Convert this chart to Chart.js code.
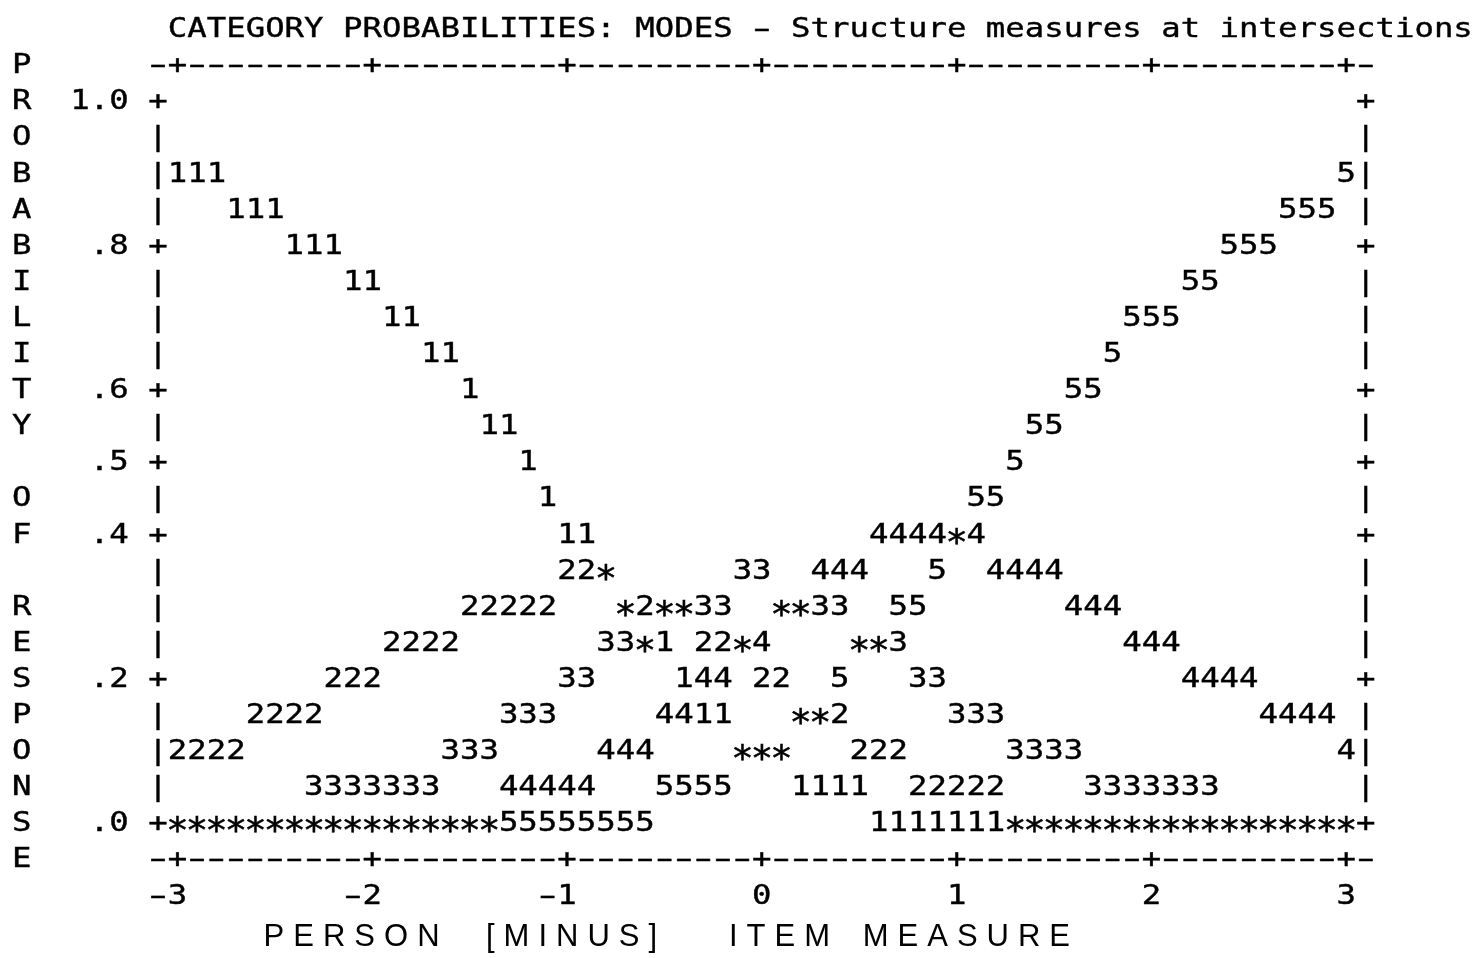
<!DOCTYPE html>
<html lang="en">
<head>
<meta charset="utf-8">
<title>Category probabilities</title>
<script src="https://cdn.jsdelivr.net/npm/chart.js@4.4.1/dist/chart.umd.min.js"></script>
<style>
    body { margin: 0; background: #ffffff; }
    #grafico { display: block; }
</style>
</head>
<body>
<canvas id="grafico" width="1477" height="958"></canvas>
<script>
// uma coluna do grafico a cada 0.1 logit
const medidas = [
    -3.0, -2.9, -2.8, -2.7, -2.6, -2.5, -2.4, -2.3, -2.2, -2.1,
    -2.0, -1.9, -1.8, -1.7, -1.6, -1.5, -1.4, -1.3, -1.2, -1.1,
    -1.0, -0.9, -0.8, -0.7, -0.6, -0.5, -0.4, -0.3, -0.2, -0.1,
    0.0, 0.1, 0.2, 0.3, 0.4, 0.5, 0.6, 0.7, 0.8, 0.9,
    1.0, 1.1, 1.2, 1.3, 1.4, 1.5, 1.6, 1.7, 1.8, 1.9,
    2.0, 2.1, 2.2, 2.3, 2.4, 2.5, 2.6, 2.7, 2.8, 2.9,
    3.0
];

const categorias = ["1", "2", "3", "4", "5"];

const prob1 = [
    .90, .90, .90, .85, .85, .85, .80, .80, .80, .75,
    .75, .70, .70, .65, .65, .60, .55, .55, .50, .45,
    .40, .40, .35, .30, .25, .25, .20, .15, .15, .10,
    .10, .10, .05, .05, .05, .05, 0, 0, 0, 0,
    0, 0, 0, 0, 0, 0, 0, 0, 0, 0,
    0, 0, 0, 0, 0, 0, 0, 0, 0, 0,
    0
];
const prob2 = [
    .10, .10, .10, .10, .15, .15, .15, .15, .20, .20,
    .20, .25, .25, .25, .25, .30, .30, .30, .30, .30,
    .35, .35, .35, .30, .30, .30, .30, .25, .25, .25,
    .20, .20, .15, .15, .15, .10, .10, .10, .05, .05,
    .05, .05, .05, 0, 0, 0, 0, 0, 0, 0,
    0, 0, 0, 0, 0, 0, 0, 0, 0, 0,
    0
];
const prob3 = [
    0, 0, 0, 0, 0, 0, 0, .05, .05, .05,
    .05, .05, .05, .05, .10, .10, .10, .15, .15, .15,
    .20, .20, .25, .25, .25, .30, .30, .30, .30, .35,
    .35, .30, .30, .30, .30, .25, .25, .25, .20, .20,
    .15, .15, .15, .10, .10, .10, .10, .05, .05, .05,
    .05, .05, .05, .05, 0, 0, 0, 0, 0, 0,
    0
];
const prob4 = [
    0, 0, 0, 0, 0, 0, 0, 0, 0, 0,
    0, 0, 0, 0, 0, 0, 0, .05, .05, .05,
    .05, .05, .10, .10, .10, .15, .15, .20, .20, .25,
    .25, .30, .30, .35, .35, .35, .40, .40, .40, .40,
    .40, .40, .35, .35, .35, .35, .30, .30, .30, .25,
    .25, .25, .20, .20, .20, .20, .15, .15, .15, .15,
    .10
];
const prob5 = [
    0, 0, 0, 0, 0, 0, 0, 0, 0, 0,
    0, 0, 0, 0, 0, 0, 0, 0, 0, 0,
    0, 0, 0, 0, 0, .05, .05, .05, .05, .10,
    .10, .10, .15, .15, .20, .25, .25, .30, .30, .35,
    .40, .45, .45, .50, .55, .55, .60, .60, .65, .70,
    .70, .70, .75, .75, .80, .80, .80, .85, .85, .85,
    .90
];

const ticksX = [-3, -2, -1, 0, 1, 2, 3];
const rotulosX = ["-3", "-2", "-1", "0", "1", "2", "3"];
const ticksY = [1.0, 0.8, 0.6, 0.5, 0.4, 0.2, 0.0];
const rotulosY = ["1.0", ".8", ".6", ".5", ".4", ".2", ".0"];

const titulo = "CATEGORY PROBABILITIES: MODES - Structure measures at intersections";
const tituloEixoY = "PROBABILITY OF RESPONSE";
const tituloEixoX = ["PERSON", "[MINUS]", "ITEM", "MEASURE"];

const FONTE_MONO = "27.4px 'DejaVu Sans Mono'";
const ESTICA = 1.18;

function escreveChar(ctx, ch, x, yLinha) {
    ctx.save();
    ctx.translate(x, yLinha);
    if (ch === "*") {
        ctx.scale(ESTICA * 1.15, 1.3);
        ctx.fillText(ch, 0, 16.5);
        ctx.strokeText(ch, 0, 16.5);
    } else {
        ctx.scale(ch === "-" ? ESTICA * 1.6 : ESTICA, 1);
        ctx.fillText(ch, 0, 10.3);
        ctx.strokeText(ch, 0, 10.3);
    }
    ctx.restore();
}

function escreveTexto(ctx, texto, xPrimeiro, yLinha, passo) {
    for (let j = 0; j < texto.length; j++) {
        if (texto[j] !== " ") {
            escreveChar(ctx, texto[j], xPrimeiro + j * passo, yLinha);
        }
    }
}

function ehTick(lista, v) {
    return lista.some(t => Math.abs(t - v) < 1e-6);
}

const desenhoTexto = {
    id: "desenhoTexto",
    afterDraw(chart) {
        const ctx = chart.ctx;
        const xs = chart.scales.x;
        const ys = chart.scales.y;
        const passo = xs.getPixelForValue(0.1) - xs.getPixelForValue(0);

        ctx.save();
        ctx.font = FONTE_MONO;
        ctx.fillStyle = "#000";
        ctx.strokeStyle = "#000";
        ctx.lineWidth = 0.4;
        ctx.textAlign = "center";
        ctx.textBaseline = "alphabetic";

        // titulo
        escreveTexto(ctx, titulo, xs.getPixelForValue(-3), ys.getPixelForValue(1.1), passo);

        // titulo vertical do eixo y, uma letra por linha
        for (let i = 0; i < tituloEixoY.length; i++) {
            const ch = tituloEixoY[i];
            if (ch !== " ") {
                escreveChar(ctx, ch, xs.getPixelForValue(-3.8), ys.getPixelForValue(1.05 - 0.05 * i));
            }
        }

        // moldura de cima e de baixo
        for (let c = -1; c <= 61; c++) {
            const v = -3 + 0.1 * c;
            const ch = ehTick(ticksX, v) ? "+" : "-";
            escreveChar(ctx, ch, xs.getPixelForValue(v), ys.getPixelForValue(ys.max));
            escreveChar(ctx, ch, xs.getPixelForValue(v), ys.getPixelForValue(ys.min));
        }

        // laterais
        for (let r = 0; r <= 20; r++) {
            const v = Math.round((1 - 0.05 * r) * 100) / 100;
            const ch = ehTick(ticksY, v) ? "+" : "|";
            escreveChar(ctx, ch, xs.getPixelForValue(xs.min), ys.getPixelForValue(v));
            escreveChar(ctx, ch, xs.getPixelForValue(xs.max), ys.getPixelForValue(v));
        }

        // rotulos do eixo y, alinhados a direita
        ticksY.forEach((t, i) => {
            const txt = rotulosY[i];
            const xUltimo = xs.getPixelForValue(-3.3);
            escreveTexto(ctx, txt, xUltimo - (txt.length - 1) * passo, ys.getPixelForValue(t), passo);
        });

        // rotulos do eixo x, ultimo digito sobre o tick
        ticksX.forEach((t, i) => {
            const txt = rotulosX[i];
            const xUltimo = xs.getPixelForValue(t);
            escreveTexto(ctx, txt, xUltimo - (txt.length - 1) * passo, ys.getPixelForValue(-0.1), passo);
        });

        // curvas: cada ponto vira o numero da categoria, "*" quando se sobrepoem
        const celulas = {};
        chart.data.datasets.forEach((ds, d) => {
            const meta = chart.getDatasetMeta(d);
            meta.data.forEach((el, i) => {
                const chave = i + ":" + Math.round(ds.data[i].y * 20);
                if (!celulas[chave]) {
                    celulas[chave] = { x: el.x, y: el.y, cats: [] };
                }
                celulas[chave].cats.push(categorias[d]);
            });
        });
        Object.values(celulas).forEach(cel => {
            const ch = cel.cats.length > 1 ? "*" : cel.cats[0];
            escreveChar(ctx, ch, cel.x, cel.y);
        });

        // titulo do eixo x
        ctx.font = "31px 'Liberation Sans'";
        ctx.textAlign = "left";
        ctx.letterSpacing = "9px";
        const posicoes = [263.6, 486, 729, 862.7];
        tituloEixoX.forEach((palavra, i) => {
            ctx.fillText(palavra, posicoes[i], 946);
        });

        ctx.restore();
    }
};

document.addEventListener("DOMContentLoaded", function () {

    const series = [prob1, prob2, prob3, prob4, prob5];

    new Chart(document.getElementById("grafico"), {
        type: "scatter",
        data: {
            datasets: series.map((valores, d) => ({
                label: categorias[d],
                data: medidas.map((m, i) => ({ x: m, y: valores[i] })),
                pointRadius: 0,
                pointHoverRadius: 0,
                showLine: false
            }))
        },
        options: {
            responsive: false,
            animation: false,
            devicePixelRatio: 1,
            events: [],
            layout: {
                padding: { left: 158, right: 111.3, top: 62.9, bottom: 100.9 }
            },
            plugins: {
                legend: { display: false },
                tooltip: { enabled: false }
            },
            scales: {
                x: {
                    type: "linear",
                    display: false,
                    min: -3.1,
                    max: 3.1,
                    afterBuildTicks: function (scale) {
                        scale.ticks = ticksX.map(v => ({ value: v }));
                    }
                },
                y: {
                    type: "linear",
                    display: false,
                    min: -0.05,
                    max: 1.05,
                    afterBuildTicks: function (scale) {
                        scale.ticks = ticksY.map(v => ({ value: v }));
                    }
                }
            }
        },
        plugins: [desenhoTexto]
    });

});
</script>
</body>
</html>
